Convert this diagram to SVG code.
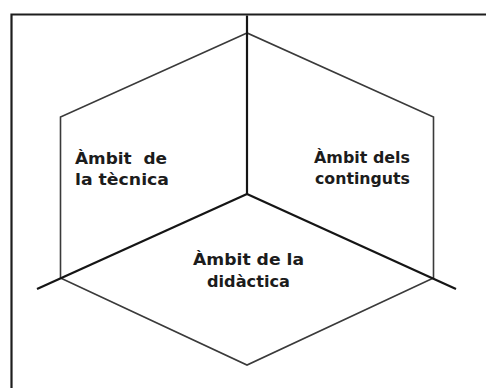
<svg xmlns="http://www.w3.org/2000/svg" width="486" height="388" viewBox="0 0 486 388">
<style>
.frame{fill:none;stroke:#1e1e1e;stroke-width:2.2}
.hex{fill:none;stroke:#3a3a3a;stroke-width:1.6;stroke-linejoin:miter}
.axis{fill:none;stroke:#151515;stroke-width:2.2;stroke-linecap:butt}
.lbl{font-family:"DejaVu Sans","Liberation Sans",sans-serif;font-weight:bold;font-size:16px;fill:#1c1c1c}
</style>
<rect width="486" height="388" fill="#ffffff"/>
<path class="frame" d="M11.5,390 V14.5 H490"/>
<g id="hexagon">
<polygon class="hex" points="247,33 60.5,117 60.5,278 247,365 433.5,278 433.5,117"/>
</g>
<g id="connectors">
<line class="axis" x1="247" y1="15.5" x2="247" y2="194"/>
<line class="axis" x1="247" y1="194" x2="37" y2="289"/>
<line class="axis" x1="247" y1="194" x2="456" y2="289"/>
</g>
<g id="node-tecnica">
<text class="lbl" x="75" y="164" textLength="92" lengthAdjust="spacingAndGlyphs" xml:space="preserve">Àmbit  de</text>
<text class="lbl" x="75" y="185" textLength="94" lengthAdjust="spacingAndGlyphs">la tècnica</text>
</g>
<g id="node-continguts">
<text class="lbl" x="314" y="163" textLength="96" lengthAdjust="spacingAndGlyphs">Àmbit dels</text>
<text class="lbl" x="315" y="184" textLength="95" lengthAdjust="spacingAndGlyphs">continguts</text>
</g>
<g id="node-didactica">
<text class="lbl" x="193" y="265" textLength="111" lengthAdjust="spacingAndGlyphs">Àmbit de la</text>
<text class="lbl" x="207" y="287" textLength="83" lengthAdjust="spacingAndGlyphs">didàctica</text>
</g>
</svg>
